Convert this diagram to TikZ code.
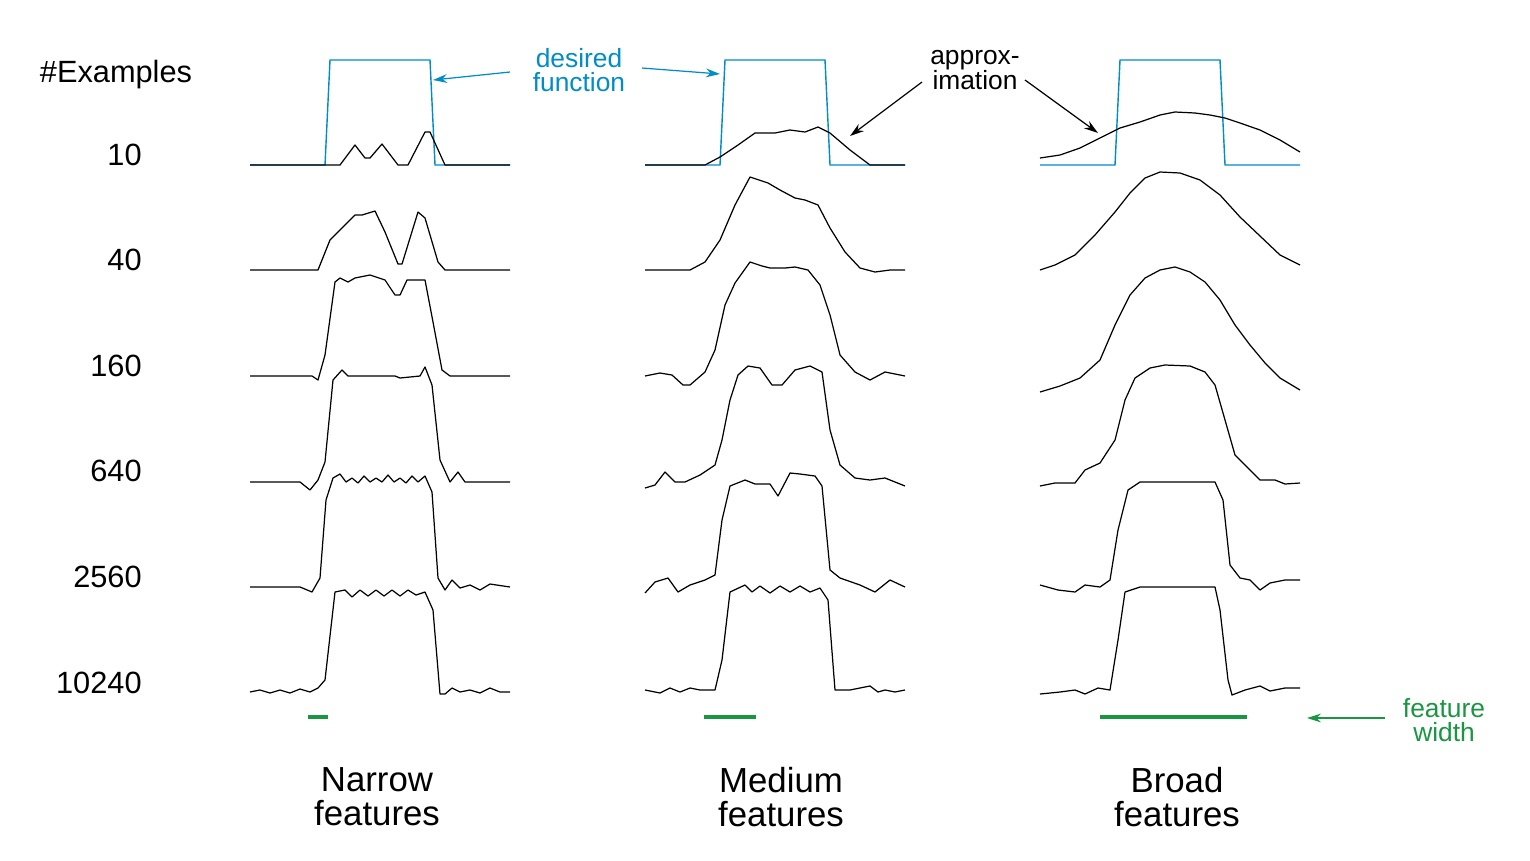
\documentclass[tikz,border=0pt]{standalone}
\usepackage{fontspec}
\setmainfont{Liberation Sans}
\usetikzlibrary{arrows.meta}
\definecolor{fblue}{RGB}{0,140,200}
\definecolor{fgreen}{RGB}{25,150,65}
\begin{document}
\begin{tikzpicture}[x=0.02cm,y=-0.02cm,
  curve/.style={line width=0.7pt,black,line join=round},
  desired/.style={line width=0.8pt,fblue},
  lab/.style={font=\fontsize{17.5}{19}\selectfont,inner sep=0pt},
  num/.style={lab,anchor=east},
  big/.style={font=\fontsize{19.8}{19.5}\selectfont,align=center,inner sep=0pt},
  note/.style={font=\fontsize{15}{14}\selectfont,align=center,inner sep=0pt},
  arr/.style={-{Stealth[length=8pt,width=5pt]},line width=0.7pt},
  bar/.style={line width=2.8pt,fgreen}]
\useasboundingbox (0,0) rectangle (1530,860);
% labels
\node[lab] (ex) at (116,75) {\#Examples};
\node[num] (n1) at (142,155) {10};
\node[num] (n2) at (142,260) {40};
\node[num] (n3) at (142,366) {160};
\node[num] (n4) at (142,471) {640};
\node[num] (n5) at (142,577) {2560};
\node[num] (n6) at (142,683) {10240};
% desired functions
\draw[desired] (250,165) -- (325,165) -- (330,60) -- (430,60) -- (435,165) -- (510,165);
\draw[desired] (645,165) -- (720,165) -- (725,60) -- (825,60) -- (830,165) -- (905,165);
\draw[desired] (1040,165) -- (1115,165) -- (1120,60) -- (1220,60) -- (1225,165) -- (1300,165);
% narrow
\draw[curve] (250,165) -- (340,165) -- (355,145) -- (365,158) -- (370,158) -- (382,144) -- (398,165) -- (408,165) -- (425,132) -- (430,132) -- (445,165) -- (510,165);
\draw[curve] (250,270) -- (318,270) -- (330,240) -- (340,230) -- (355,215) -- (362,215) -- (375,211) -- (385,232) -- (398,264) -- (402,264) -- (418,212) -- (425,218) -- (438,262) -- (445,270) -- (510,270);
\draw[curve] (250,376) -- (312,376) -- (318,380) -- (325,355) -- (335,282) -- (340,278) -- (348,282) -- (355,278) -- (370,275) -- (385,280) -- (395,295) -- (400,295) -- (407,280) -- (425,280) -- (433,322) -- (442,370) -- (450,376) -- (510,376);
\draw[curve] (250,482) -- (300,482) -- (310,490) -- (318,480) -- (325,462) -- (333,380) -- (342,370) -- (348,376) -- (395,376) -- (400,378) -- (420,376) -- (425,367) -- (432,385) -- (440,460) -- (450,482) -- (458,472) -- (465,482) -- (510,482);
\draw[curve] (250,587) -- (300,587) -- (312,592) -- (320,578) -- (326,500) -- (333,478) -- (340,474) -- (346,482) -- (352,478) -- (358,483) -- (364,476) -- (370,482) -- (376,478) -- (382,482) -- (388,475) -- (394,482) -- (400,478) -- (406,483) -- (412,476) -- (418,482) -- (425,476) -- (432,492) -- (438,578) -- (445,590) -- (452,580) -- (460,588) -- (470,585) -- (480,590) -- (490,584) -- (510,587);
\draw[curve] (250,692) -- (260,690) -- (270,693) -- (280,690) -- (290,693) -- (300,689) -- (310,692) -- (318,688) -- (325,680) -- (335,592) -- (345,590) -- (352,597) -- (360,590) -- (368,596) -- (376,590) -- (384,596) -- (392,590) -- (400,596) -- (408,590) -- (416,595) -- (425,592) -- (433,610) -- (440,694) -- (445,694) -- (452,688) -- (460,692) -- (470,690) -- (480,693) -- (490,688) -- (500,692) -- (510,692);
% medium
\draw[curve] (645,165) -- (705,165) -- (720,157) -- (738,145) -- (755,133) -- (775,133) -- (790,130) -- (805,132) -- (818,127) -- (830,133) -- (850,150) -- (870,165) -- (905,165);
\draw[curve] (645,270) -- (690,270) -- (705,262) -- (720,240) -- (735,205) -- (750,177) -- (768,183) -- (780,190) -- (795,198) -- (805,200) -- (818,205) -- (830,228) -- (845,252) -- (860,268) -- (875,272) -- (890,270) -- (905,270);
\draw[curve] (645,376) -- (660,373) -- (672,375) -- (683,385) -- (690,385) -- (705,372) -- (715,350) -- (725,305) -- (735,283) -- (750,262) -- (762,266) -- (770,268) -- (785,268) -- (795,267) -- (808,270) -- (820,285) -- (830,315) -- (840,355) -- (855,372) -- (870,380) -- (885,372) -- (905,376);
\draw[curve] (645,488) -- (655,485) -- (665,472) -- (675,482) -- (685,482) -- (700,475) -- (715,465) -- (722,440) -- (730,400) -- (738,375) -- (748,366) -- (760,368) -- (772,385) -- (782,385) -- (795,370) -- (810,366) -- (822,372) -- (830,430) -- (840,465) -- (855,478) -- (870,480) -- (885,478) -- (905,486);
\draw[curve] (645,593) -- (655,582) -- (668,578) -- (678,592) -- (690,585) -- (705,580) -- (715,575) -- (722,520) -- (730,486) -- (745,480) -- (755,484) -- (770,484) -- (778,496) -- (790,473) -- (800,474) -- (815,476) -- (822,486) -- (830,570) -- (840,578) -- (860,585) -- (875,592) -- (890,580) -- (905,587);
\draw[curve] (645,690) -- (660,693) -- (670,688) -- (680,692) -- (690,688) -- (700,690) -- (715,690) -- (722,660) -- (730,592) -- (745,585) -- (752,592) -- (760,586) -- (770,593) -- (780,586) -- (790,592) -- (800,586) -- (810,592) -- (820,588) -- (828,600) -- (835,690) -- (850,690) -- (860,688) -- (870,686) -- (878,692) -- (885,690) -- (895,692) -- (905,690);
% broad
\draw[curve] (1040,158) -- (1060,155) -- (1080,148) -- (1100,138) -- (1120,128) -- (1140,122) -- (1160,115) -- (1175,112) -- (1195,113) -- (1210,115) -- (1225,118) -- (1240,123) -- (1260,130) -- (1280,140) -- (1300,152);
\draw[curve] (1040,270) -- (1055,265) -- (1075,255) -- (1095,235) -- (1115,212) -- (1130,193) -- (1145,178) -- (1160,172) -- (1180,173) -- (1200,180) -- (1220,195) -- (1240,217) -- (1260,236) -- (1280,255) -- (1300,265);
\draw[curve] (1040,392) -- (1060,386) -- (1080,378) -- (1100,360) -- (1115,325) -- (1130,295) -- (1145,278) -- (1160,270) -- (1175,267) -- (1190,272) -- (1205,282) -- (1220,300) -- (1235,325) -- (1250,345) -- (1265,363) -- (1280,378) -- (1300,390);
\draw[curve] (1040,486) -- (1055,483) -- (1075,483) -- (1085,470) -- (1100,463) -- (1115,440) -- (1125,400) -- (1135,378) -- (1150,368) -- (1165,365) -- (1190,366) -- (1205,372) -- (1215,385) -- (1225,420) -- (1235,455) -- (1248,468) -- (1260,480) -- (1275,480) -- (1285,484) -- (1300,483);
\draw[curve] (1040,585) -- (1058,590) -- (1075,592) -- (1085,585) -- (1100,587) -- (1110,580) -- (1118,530) -- (1128,490) -- (1140,482) -- (1215,482) -- (1223,500) -- (1230,565) -- (1240,578) -- (1250,580) -- (1260,590) -- (1270,583) -- (1285,580) -- (1300,580);
\draw[curve] (1040,694) -- (1060,692) -- (1075,690) -- (1085,694) -- (1098,688) -- (1110,690) -- (1118,640) -- (1125,592) -- (1140,587) -- (1215,587) -- (1220,610) -- (1228,680) -- (1232,695) -- (1245,690) -- (1260,686) -- (1270,691) -- (1285,688) -- (1300,688);
% annotations
\node[note,text=fblue] (des) at (579,70) {desired\\function};
\coordinate (d1) at (433,80);
\coordinate (d2) at (720,74);
\draw[arr,fblue] (510,72) -- (d1);
\draw[arr,fblue] (642,68) -- (d2);
\node[note] (apx) at (975,70) {approx-\\imation};
\coordinate (a1) at (850,136);
\coordinate (a2) at (1098,133);
\draw[arr] (922,82) -- (a1);
\draw[arr] (1025,80) -- (a2);
% feature widths
\draw[bar] (308,717) -- (328,717);
\draw[bar] (704,717) -- (756,717);
\draw[bar] (1100,717) -- (1247,717);
\node[note,text=fgreen] (fw) at (1444,720) {feature\\width};
\coordinate (fa) at (1307,718);
\draw[-{Stealth[length=8pt,width=5pt]},line width=0.6pt,fgreen] (1385,718) -- (fa);
% column titles
\node[big] (t1) at (377,797) {Narrow\\features};
\node[big] (t2) at (781,797) {Medium\\features};
\node[big] (t3) at (1177,797) {Broad\\features};
\end{tikzpicture}
\end{document}
